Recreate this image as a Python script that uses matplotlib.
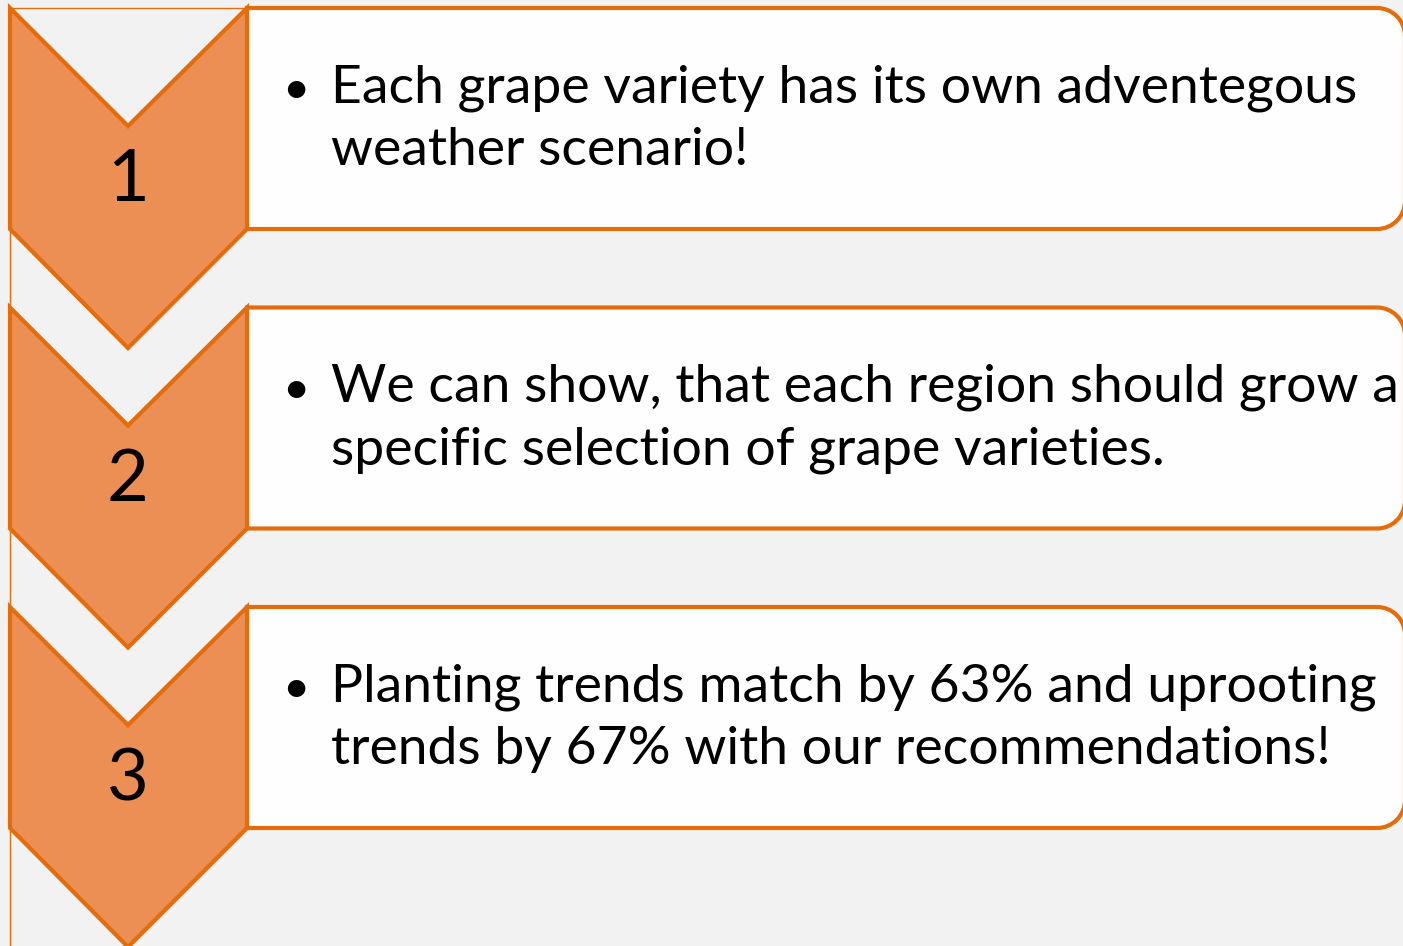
import matplotlib.pyplot as plt
from matplotlib.patches import Polygon, PathPatch
from matplotlib.path import Path

# step labels and the text lines for each step
step_labels = ["1", "2", "3"]
step_lines = [
    ["Each grape variety has its own adventegous", "weather scenario!"],
    ["We can show, that each region should grow a", "specific selection of grape varieties."],
    ["Planting trends match by 63% and uprooting", "trends by 67% with our recommendations!"],
]

edge = "#E46C0A"
fill = "#EB8F55"
bg = "#F2F2F2"


def right_rounded_box(x0, y0, w, h, r):
    # square corners on the left, rounded ones on the right
    x1, y1 = x0 + w, y0 + h
    k = 0.5523 * r
    verts = [(x0, y0), (x1 - r, y0),
             (x1 - r + k, y0), (x1, y0 + r - k), (x1, y0 + r),
             (x1, y1 - r),
             (x1, y1 - r + k), (x1 - r + k, y1), (x1 - r, y1),
             (x0, y1), (x0, y0)]
    codes = [Path.MOVETO, Path.LINETO,
             Path.CURVE4, Path.CURVE4, Path.CURVE4,
             Path.LINETO,
             Path.CURVE4, Path.CURVE4, Path.CURVE4,
             Path.LINETO, Path.CLOSEPOLY]
    return Path(verts, codes)


fig = plt.figure(figsize=(14.03, 9.46), dpi=100)
fig.patch.set_facecolor(bg)
ax = fig.add_axes([0, 0, 1, 1])
ax.set_xlim(0, 1403)
ax.set_ylim(946, 0)
ax.axis("off")

# thin frame line on the left/top
ax.plot([10, 10], [8, 946], color=edge, lw=1.0, zorder=1)
ax.plot([10, 247], [8, 8], color=edge, lw=1.0, zorder=1)

step = 299.5
for i, (lab, lines) in enumerate(zip(step_labels, step_lines)):
    y0 = 8 + i * step
    box = PathPatch(right_rounded_box(247, y0, 1158, 221, 28),
                    facecolor="#FEFEFE", edgecolor=edge, lw=3.0, zorder=2)
    ax.add_patch(box)
    chev = Polygon([(10, y0), (128, y0 + 118), (247, y0), (247, y0 + 221),
                    (128, y0 + 340), (10, y0 + 221)],
                   closed=True, facecolor=fill, edgecolor=edge, lw=3.0,
                   joinstyle="miter", zorder=3)
    ax.add_patch(chev)
    ax.text(128, y0 + 193, lab, ha="center", va="baseline", fontsize=52,
            family="Lato", color="black", zorder=4)
    ax.text(296, y0 + 95, "\u2022", ha="center", va="baseline", fontsize=34,
            family="Lato", color="black", zorder=4)
    for j, line in enumerate(lines):
        ax.text(331, y0 + 94 + j * 63, line, ha="left", va="baseline",
                fontsize=38.5, family="Lato", color="black", zorder=4,
                clip_on=True)

fig.savefig("out.png", dpi=100, facecolor=bg)
